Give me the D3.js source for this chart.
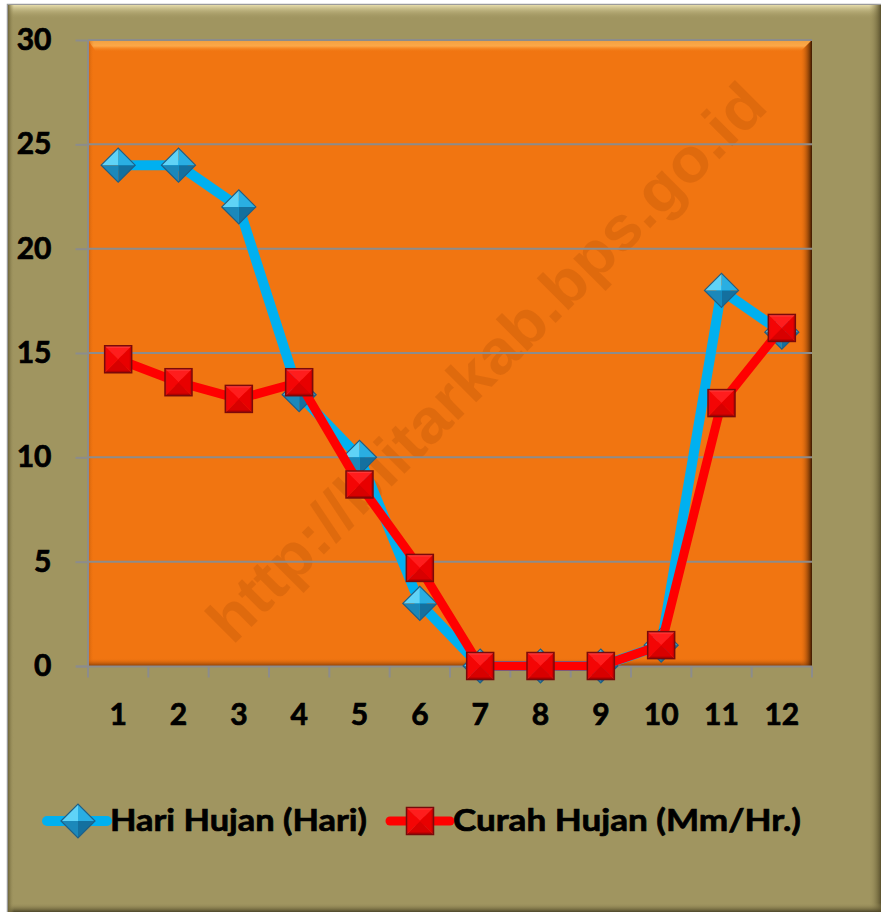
<!DOCTYPE html>
<html>
<head>
<meta charset="utf-8">
<script src="https://cdn.jsdelivr.net/npm/d3@7"></script>
<style>
body { margin: 0; background: #fff; }
text { font-family: Lato, "Open Sans", sans-serif; font-weight: 700; fill: #000; }
</style>
</head>
<body>
<svg id="chart" width="881" height="912"></svg>
<script>
// chart data
const months = ["1", "2", "3", "4", "5", "6", "7", "8", "9", "10", "11", "12"];
const hariHujan = [24, 24, 22, 13, 10, 3, 0, 0, 0, 1, 18, 16];
const curahHujan = [14.7, 13.6, 12.8, 13.6, 8.7, 4.7, 0, 0, 0, 1, 12.6, 16.2];
const yTicks = [0, 5, 10, 15, 20, 25, 30];
const seriesNames = ["Hari Hujan (Hari)", "Curah Hujan (Mm/Hr.)"];
const watermark = "http://blitarkab.bps.go.id";

const W = 881, H = 912;
const plot = {left: 88, right: 812, top: 40, bottom: 666};

let svg = d3.select("#chart");
let defs = svg.append("defs");

function grad(id, x2, y2, stops) {
  let g = defs.append("linearGradient").attr("id", id)
    .attr("x1", 0).attr("y1", 0).attr("x2", x2).attr("y2", y2);
  stops.forEach(function(s) {
    g.append("stop").attr("offset", s[0]).attr("stop-color", s[1]).attr("stop-opacity", s[2]);
  });
}
grad("frameTop", 0, 1, [[0, "#e6dcaa", 1], [1, "#a09560", 0]]);
grad("frameRight", 1, 0, [[0, "#a09560", 0], [1, "#5a512c", 1]]);
grad("frameBottom", 0, 1, [[0, "#a09560", 0], [1, "#4e4626", 1]]);
grad("frameLeft", 1, 0, [[0, "#6e6538", 1], [1, "#a09560", 0]]);
grad("plotTop", 0, 1, [[0, "#f0a040", 1], [0.5, "#fca848", 1], [1, "#f17511", 0]]);
grad("plotRight", 1, 0, [[0, "#f17511", 0], [1, "#3a1800", 1]]);
grad("plotBottom", 0, 1, [[0, "#f17511", 0], [1, "#8a3e04", 1]]);
grad("plotLeft", 1, 0, [[0, "#b05008", 1], [1, "#f17511", 0]]);

// outer frame
svg.append("rect").attr("x", 7.5).attr("y", 4.5).attr("width", W - 8).attr("height", H - 5)
  .attr("fill", "#a09560").attr("stroke", "#9a9a9a").attr("stroke-width", 1.5);
svg.append("rect").attr("x", 8).attr("y", 5).attr("width", W - 8).attr("height", 14).attr("fill", "url(#frameTop)");
svg.append("rect").attr("x", W - 12).attr("y", 5).attr("width", 12).attr("height", H - 5).attr("fill", "url(#frameRight)");
svg.append("rect").attr("x", 8).attr("y", H - 9).attr("width", W - 8).attr("height", 9).attr("fill", "url(#frameBottom)");
svg.append("rect").attr("x", 8).attr("y", 5).attr("width", 6).attr("height", H - 5).attr("fill", "url(#frameLeft)");

let x = d3.scaleBand().domain(months).range([plot.left, plot.right]);
let y = d3.scaleLinear().domain([0, 30]).range([plot.bottom, plot.top]);
let cx = function(d, i) { return x(months[i]) + x.bandwidth() / 2; };

// plot area
svg.append("rect").attr("x", plot.left).attr("y", plot.top)
  .attr("width", plot.right - plot.left).attr("height", plot.bottom - plot.top).attr("fill", "#f17511");
svg.append("path").attr("fill", "url(#plotTop)")
  .attr("d", "M" + plot.left + "," + plot.top + "H" + plot.right + "L" + (plot.right - 12) + "," + (plot.top + 12) +
    "H" + (plot.left + 8) + "Z");
svg.append("rect").attr("x", plot.left).attr("y", plot.top).attr("width", 6)
  .attr("height", plot.bottom - plot.top).attr("fill", "url(#plotLeft)").attr("opacity", 0.6);
svg.append("rect").attr("x", plot.left).attr("y", plot.bottom - 8).attr("width", plot.right - plot.left)
  .attr("height", 8).attr("fill", "url(#plotBottom)");
svg.append("path").attr("fill", "url(#plotRight)")
  .attr("d", "M" + (plot.right - 12) + "," + (plot.top + 12) + "L" + plot.right + "," + plot.top +
    "V" + plot.bottom + "H" + (plot.right - 12) + "Z");

// watermark
svg.append("text")
  .attr("transform", "translate(486,362) rotate(-45)")
  .attr("text-anchor", "middle").attr("dominant-baseline", "central")
  .attr("textLength", 760).attr("lengthAdjust", "spacingAndGlyphs")
  .style("font-family", "'Liberation Sans', Arial, sans-serif").style("font-size", "62px")
  .style("fill", "#9a4000").style("fill-opacity", 0.2)
  .text(watermark);

// gridlines
svg.append("g").selectAll("line").data(yTicks.filter(function(t) { return t > 0; })).enter().append("line")
  .attr("x1", plot.left).attr("x2", plot.right)
  .attr("y1", function(d) { return y(d); }).attr("y2", function(d) { return y(d); })
  .attr("stroke", "#8c8c8c").attr("stroke-width", 2);

// axes
let yAxis = svg.append("g").attr("transform", "translate(" + (plot.left - 0.5) + ",0)")
  .call(d3.axisLeft(y).tickValues(yTicks).tickSize(12).tickPadding(24).tickSizeOuter(0));
let xAxis = svg.append("g").attr("transform", "translate(0," + (plot.bottom + 0.5) + ")")
  .call(d3.axisBottom(x).tickSize(0).tickPadding(43));
[yAxis, xAxis].forEach(function(a) {
  a.select(".domain").attr("stroke", "#8c8c8c").attr("stroke-width", 2);
  a.selectAll(".tick line").attr("stroke", "#8c8c8c").attr("stroke-width", 2);
  a.selectAll("text").style("font-size", "30px").style("font-family", "Lato, sans-serif")
    .style("font-weight", 700).attr("fill", "#000")
    .attr("stroke", "#000").attr("stroke-width", 0.7);
});
xAxis.select(".domain").attr("d", "M" + (plot.left - 12) + ",0H" + plot.right);
xAxis.selectAll(".tick text").attr("dy", "0.5em");
// category boundary ticks
xAxis.append("g").selectAll("line").data(months.concat(["end"])).enter().append("line")
  .attr("x1", function(d, i) { return i < months.length ? x(d) : plot.right; })
  .attr("x2", function(d, i) { return i < months.length ? x(d) : plot.right; })
  .attr("y1", 0).attr("y2", 11).attr("stroke", "#8c8c8c").attr("stroke-width", 2);

// markers
function diamond(g, s) {
  let faces = [
    [[-s, 0], [0, -s], [0, 0], "#5fd3f7"],
    [[0, -s], [s, 0], [0, 0], "#2aaee2"],
    [[s, 0], [0, s], [0, 0], "#14709f"],
    [[0, s], [-s, 0], [0, 0], "#1b88ba"]
  ];
  faces.forEach(function(f) {
    g.append("path").attr("d", "M" + f[0] + "L" + f[1] + "L" + f[2] + "Z").attr("fill", f[3]);
  });
  g.append("path").attr("d", "M" + (-s) + ",0L0," + (-s) + "L" + s + ",0L0," + s + "Z")
    .attr("fill", "none").attr("stroke", "#1f5f86").attr("stroke-width", 1.2);
}
function square(g, s) {
  let faces = [
    [[-s, -s], [s, -s], [0, 0], "#ff3a3a"],
    [[s, -s], [s, s], [0, 0], "#d00000"],
    [[s, s], [-s, s], [0, 0], "#b00000"],
    [[-s, s], [-s, -s], [0, 0], "#e80a0a"]
  ];
  faces.forEach(function(f) {
    g.append("path").attr("d", "M" + f[0] + "L" + f[1] + "L" + f[2] + "Z").attr("fill", f[3]);
  });
  g.append("rect").attr("x", -s + 2).attr("y", -s + 2).attr("width", 2 * s - 4).attr("height", 2 * s - 4)
    .attr("fill", "#f00").attr("opacity", 0.5);
  g.append("rect").attr("x", -s).attr("y", -s).attr("width", 2 * s).attr("height", 2 * s)
    .attr("fill", "none").attr("stroke", "#7a0a0a").attr("stroke-width", 1.5);
}

let series = [
  {name: seriesNames[0], values: hariHujan, color: "#00b0f0", width: 10, marker: diamond, size: 17},
  {name: seriesNames[1], values: curahHujan, color: "#ff0000", width: 9, marker: square, size: 13.5}
];

let line = d3.line().x(cx).y(function(d) { return y(d); });

series.forEach(function(s) {
  let g = svg.append("g");
  g.append("path").datum(s.values).attr("d", line).attr("fill", "none")
    .attr("stroke", s.color).attr("stroke-width", s.width).attr("stroke-linejoin", "round");
  g.selectAll("g.pt").data(s.values).enter().append("g").attr("class", "pt")
    .attr("transform", function(d, i) { return "translate(" + cx(d, i) + "," + y(d) + ")"; })
    .each(function() { s.marker(d3.select(this), s.size); });
});

// legend
let legendX = [47, 390];
let legendLen = [60, 60];
let legendTextLen = [257, 348];
series.forEach(function(s, i) {
  let g = svg.append("g").attr("transform", "translate(" + legendX[i] + ",821)");
  g.append("line").attr("x1", 0).attr("x2", legendLen[i]).attr("stroke", s.color)
    .attr("stroke-width", s.width).attr("stroke-linecap", "round");
  let m = g.append("g").attr("transform", "translate(" + (i === 0 ? 31 : 30) + ",0)");
  s.marker(m, s.size);
  g.append("text").attr("x", legendLen[i] + 3).attr("y", 10).style("font-size", "31px")
    .attr("textLength", legendTextLen[i]).attr("lengthAdjust", "spacingAndGlyphs")
    .attr("stroke", "#000").attr("stroke-width", 0.7)
    .text(s.name);
});
</script>
</body>
</html>
